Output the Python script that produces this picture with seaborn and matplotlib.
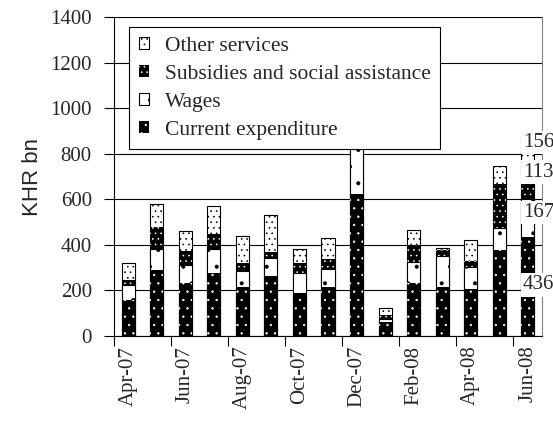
import numpy as np
import pandas as pd
import matplotlib
matplotlib.use("Agg")
import matplotlib.pyplot as plt
import seaborn as sns
from matplotlib.patches import Patch

# ---------------- data ----------------
months = ["Apr-07", "May-07", "Jun-07", "Jul-07", "Aug-07", "Sep-07", "Oct-07",
          "Nov-07", "Dec-07", "Jan-08", "Feb-08", "Mar-08", "Apr-08", "May-08", "Jun-08"]
current = [160, 289, 233, 278, 215, 264, 190, 215, 623, 62, 233, 215, 208, 376, 436]
wages = [63, 95, 78, 106, 71, 80, 87, 81, 300, 12, 92, 135, 95, 99, 167]
subsidies = [22, 95, 63, 63, 35, 25, 45, 44, 80, 18, 76, 26, 25, 190, 113]
other = [77, 100, 87, 123, 117, 161, 59, 91, 150, 33, 63, 12, 95, 82, 156]
series_names = ["Current expenditure", "Wages",
                "Subsidies and social assistance", "Other services"]
shown_ticks = ["Apr-07", "Jun-07", "Aug-07", "Oct-07", "Dec-07", "Feb-08", "Apr-08", "Jun-08"]
label_nudge = [6, 21, 60, 55]   # vertical offsets of the value labels on the last bar

# ---------------- styles ----------------
styles = {
    "Current expenditure": dict(face="black", edge="white", hatch="..", lw=0),
    "Wages": dict(face="white", edge="black", hatch=".", lw=0.8),
    "Subsidies and social assistance": dict(face="black", edge="white", hatch="...", lw=0),
    "Other services": dict(face="white", edge="black", hatch="...", lw=0.8),
}

sns.set_theme(style="white")
plt.rcParams["font.family"] = ["Liberation Serif", "DejaVu Serif"]
plt.rcParams["hatch.linewidth"] = 0.45

fig = plt.figure(figsize=(5.53, 4.44), dpi=100)
ax = fig.add_axes([114 / 553, 1 - 336 / 444, 428 / 553, 319 / 444])

df = pd.DataFrame({"month": months,
                   "Current expenditure": current,
                   "Wages": wages,
                   "Subsidies and social assistance": subsidies,
                   "Other services": other})
cum = df[series_names].cumsum(axis=1)

bar_w = 0.46
for name in reversed(series_names):
    st = styles[name]
    n0 = len(ax.patches)
    sns.barplot(x=df["month"], y=cum[name].values, order=months, color=st["face"],
                width=bar_w, saturation=1, ax=ax, zorder=2)
    for p in ax.patches[n0:]:
        p.set_facecolor(st["face"])
        p.set_edgecolor(st["edge"])
        p.set_linewidth(st["lw"])
        p.set_hatch(st["hatch"])

# ---------------- axes ----------------
ax.set_xlim(-0.5, len(months) - 0.5)
ax.set_ylim(0, 1400)
ax.set_yticks(np.arange(0, 1401, 200))
ax.yaxis.grid(True, color="black", linewidth=0.8)
ax.xaxis.grid(False)
ax.set_axisbelow(True)

pos = [months.index(m) for m in shown_ticks]
ax.set_xticks(pos)
ax.set_xticklabels(shown_ticks, rotation=90, fontsize=15)
ax.set_xticks(np.arange(-0.5, len(months) - 1, 2), minor=True)
ax.tick_params(axis="x", which="major", length=0, pad=7)
ax.tick_params(axis="x", which="minor", length=7, width=0.8, color="black",
               direction="out", bottom=True)
ax.tick_params(axis="y", which="major", length=7, width=0.8, color="black",
               direction="out", left=True, pad=9, labelsize=15)

ax.set_xlabel("")
ax.set_ylabel("KHR bn", family=["Liberation Sans", "DejaVu Sans"], fontsize=16)
ax.yaxis.set_label_coords(-0.165, 0.5)

for s in ["left", "bottom"]:
    ax.spines[s].set_color("black")
    ax.spines[s].set_linewidth(0.8)
ax.spines["top"].set_visible(False)
ax.spines["right"].set_color("#808080")
ax.spines["right"].set_linewidth(0.8)

# ---------------- legend ----------------
handles = []
for name in reversed(series_names):
    st = styles[name]
    handles.append(Patch(facecolor=st["face"], edgecolor=st["edge"],
                         hatch=st["hatch"], linewidth=st["lw"], label=name))
leg = ax.legend(handles=handles, loc="upper left",
                bbox_to_anchor=(15 / 428, 1 - 10 / 319), borderaxespad=0,
                frameon=True, fancybox=False, edgecolor="black", framealpha=1,
                fontsize=15.5, handlelength=0.5, handleheight=0.5,
                handletextpad=0.7, labelspacing=0.42, borderpad=0.45)
leg.get_frame().set_linewidth(0.8)
leg.set_zorder(5)

# ---------------- value labels on last bar ----------------
last = len(months) - 1
vals = [current[last], wages[last], subsidies[last], other[last]]
base = 0
for v, dy in zip(vals, label_nudge):
    ax.text(last - 0.17, base + v / 2 + dy, str(v), ha="left", va="center",
            fontsize=15, zorder=6, clip_on=False,
            bbox=dict(facecolor="white", edgecolor="none", pad=1.5))
    base += v

fig.savefig("out.png", dpi=100)
